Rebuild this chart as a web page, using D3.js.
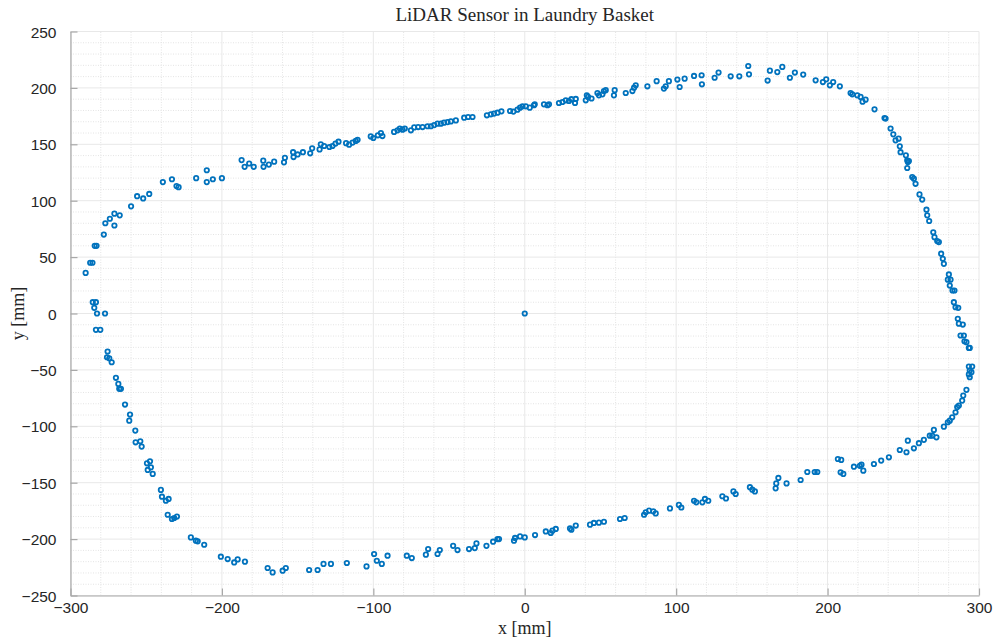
<!DOCTYPE html>
<html>
<head>
<meta charset="utf-8">
<script src="https://cdn.jsdelivr.net/npm/d3@7"></script>
<style>
  body { margin: 0; background: #fff; }
  svg { display: block; }
  .tick-lbl { font-family: 'Liberation Sans', Arial, sans-serif; font-size: 15.5px; fill: #262626; }
  .latex { font-family: 'Liberation Serif', 'DejaVu Serif', serif; fill: #262626; }
</style>
</head>
<body>
<div id="chart"></div>
<script>
// scan points, in mm, walked round the basket wall
const topWall = [
  [-290,36],[-287,45],[-285.5,45],[-284,60],[-282.8,60],[-278,70],[-277,80],[-274,84],[-271,88.5],[-271,78],
  [-267.5,87],[-260,95],[-256,104],[-252,102],[-248,106],[-239,116.5],[-233,119],[-230,113],[-228.6,112],[-217,120],
  [-210,127],[-210,116.5],[-206,119],[-200,120],[-187,136],[-185,130],[-182,133],[-179,130],[-172.7,135.5],[-172.5,130],
  [-169,132],[-165.5,134.6],[-159,134],[-158.4,138],[-153,143],[-152.7,138.7],[-150,141],[-146.5,143],[-141.7,142],[-140.4,146.4],
  [-135.5,145.5],[-134.7,150],[-132.5,148.5],[-129,147.6],[-127,148.5],[-125,150.6],[-123,152.3],[-118,151],[-116,149.7],[-113.7,151.5],
  [-111.6,153],[-110.4,154],[-101.7,157],[-100,155.6],[-97,158],[-95,160],[-94,157.3],[-86.3,161],[-84,162.4],[-82.5,164],
  [-80.7,163],[-79.2,164],[-75.2,162.4],[-73,165],[-70.4,165.3],[-67.5,165.3],[-64.2,166],[-62,166],[-59.8,167],[-57.6,168.3],
  [-55.4,168.3],[-53.3,169.2],[-51,169.7],[-48.8,170.3],[-45.5,171.2],[-40,173.6],[-37.4,174.2],[-34.5,174.2],[-25,175.7],[-22.4,176.6],
  [-20.3,177.2],[-18,178],[-15.4,179.2],[-9.7,179.5],[-7.5,179],[-4.8,180.7],[-3.1,182.5],[-1.5,183.7],[0.7,183.7],[3.3,182.5],
  [6.1,184.6],[6.6,185.4],[12.7,185.4],[15,184.6],[16,185.4],[22.6,186.6],[24.9,187.5],[27.1,189],[29.2,188.4],[30.8,190],
  [33.7,190.2],[33.2,186.6],[40.3,189],[41,193.4],[41.8,192],[44.1,190.6],[48,195.5],[49,193.4],[51.3,194.3],[52.3,197.2],
  [53.5,198],[58.9,193.4],[59.4,198],[66.7,195.5],[71.1,197.2],[72.2,200.2],[73.3,202.3],[81,201.4],[87.1,206],[91.9,199.4],
  [93.1,201.4],[95.2,206],[100.8,207.4],[102.3,200.8],[105.6,208.2],[111.8,210.6],[116.8,211.2],[117,203.2],[125.4,209],[128,213.6],
  [136,210.3],[141.7,210.3],[147.6,219.4],[148.1,212],[160.4,206.5],[161.9,215.3],[166.8,214],[170.1,218.6],[175.1,209],[178.4,213.6],
  [183.9,211.8],[192.1,206.7],[196.9,205.2],[199.1,207.6],[201.5,202.3],[203.7,205.2],[208.1,201.4]
];
const rightWall = [
  [215.2,195.5],[216.3,194.3],[219.6,193.4],[221.8,192],[223.1,187.8],[225.1,189.6],[231,181],[237.6,173.3],[238.3,172.8],[241.6,164],
  [243.4,158.8],[244.9,153.5],[246.9,155],[247.7,148.2],[248.2,143],[251.7,140.2],[252.6,135.8],[253,134.3],[253.7,135.1],[252.6,129],
  [255.9,121],[257,119.5],[258.1,115],[260.7,105.6],[262.5,101],[265.3,92],[265.8,87],[267.1,82],[269.8,72],[270.6,67.7],
  [272.4,64.2],[273.5,63.3],[275,53],[276.1,48.5],[276.8,44],[280.1,34.6],[279.4,30],[281.2,30],[280.7,24.8],[282.5,20.4],
  [283.8,20.4],[283.4,10],[284.5,5.6],[286.3,5],[286,-4.7],[286.7,-9],[289.3,-9.8],[287.8,-19.5],[290,-19.5],[290.4,-24.6],
  [291.7,-25.4],[293.3,-30.5],[293.9,-30.5],[293.3,-47],[295.5,-47],[293.9,-50.6],[295,-52],[293.3,-54],[293.9,-56.5],[291.7,-67.7],
  [289.6,-72.8],[288.9,-77.2],[286.7,-81.6],[285.6,-83],[284.5,-87.6],[282.3,-92],[280.7,-95],[279.4,-96.4],[276.8,-100.3],[271.9,-109.8],
  [270.2,-103.2],[269.1,-108.3],[267.5,-108.3],[263.6,-112],[260.3,-115],[257,-119.5],[253,-112.7],[252.1,-123],[247.7,-121]
];
const bottomWall = [
  [240.5,-127.5],[235.4,-130.4],[230.6,-133.4],[223.6,-139.3],[222.4,-134],[221.3,-135],[217.4,-135.8],[210.4,-142.2],[208.6,-140.8],[209,-129.8],
  [206.8,-129],[193.2,-140.5],[191.5,-140.5],[186.6,-140.5],[182.2,-147.6],[172.9,-150.6],[167.5,-145.8],[166.1,-150.6],[165.7,-155],[152,-157.7],
  [150.3,-156.2],[148.7,-154],[139.3,-160],[137.8,-157.7],[132.9,-164],[130.5,-162],[121.2,-166],[119,-164.4],[117.3,-167.4],[113.3,-167.4],
  [111.8,-166],[103.4,-172],[101.8,-169.7],[95.9,-172.8],[86.5,-177.2],[84.9,-175.4],[82.1,-174.8],[79.9,-176.3],[78.8,-178.4],[66,-181.3],
  [62.9,-182.2],[52.3,-184.6],[49,-185.4],[45.7,-185.7],[43.1,-187.2],[33.7,-188],[30.8,-191.7],[29.9,-190.5],[20.5,-191],[18.3,-192.5],
  [17.2,-194.6],[13.9,-193.2],[6.8,-196.4],[0,-198.5],[-3.1,-197.6],[-6.4,-199],[-7.1,-201.4],[-17,-200],[-18,-200],[-20.9,-202.3],
  [-25.3,-206],[-31.9,-203.8],[-33,-208],[-36.8,-208.8],[-44.4,-209.7],[-47.3,-206],[-56.1,-209.7],[-57.6,-213.2],[-63.8,-208.8],[-65.3,-213.8],
  [-74.6,-216.8],[-77.9,-214.7],[-90.6,-214.7],[-94.4,-222],[-97.7,-219.2],[-99.5,-213.2],[-104.5,-224.2],[-117.5,-221.2],[-128,-222],[-132.9,-222],
  [-136.8,-227.4],[-142.4,-227.4],[-157.8,-225.6],[-159.9,-228],[-166.5,-229.5],[-169.8,-225.6],[-184.8,-220],[-189.6,-218],[-191.9,-220.7],[-196.2,-217.7],
  [-200.7,-215.6],[-211.7,-205],[-216,-202],[-217.2,-201.4],[-220.5,-198.5]
];
const leftWall = [
  [-229.7,-180],[-231.5,-181.3],[-233,-182.2],[-235.8,-178.4],[-235.2,-164.4],[-237,-166],[-239.6,-162.4],[-240.3,-156.4],[-245.7,-142.2],[-246.9,-136.4],
  [-247.5,-131],[-249,-138.7],[-249.5,-132.8],[-253,-118],[-253.9,-113.3],[-257,-114.2],[-257.2,-103.8],[-261.2,-95],[-260.7,-89.6],[-264,-80.7],
  [-266.7,-66.8],[-267.8,-66.8],[-268.4,-62.4],[-270,-57],[-272.8,-43.2],[-274.4,-39.7],[-275.9,-38.8],[-275.5,-33.7],[-283.2,-14.5],[-280.3,-14.5],
  [-282.5,0],[-277.2,0],[-285.3,10],[-283.2,10],[-284.3,5]
];
const sensor = [[0,0]];

const xTicks = [-300,-200,-100,0,100,200,300];
const yTicks = [-250,-200,-150,-100,-50,0,50,100,150,200,250];
const titleText = 'LiDAR Sensor in Laundry Basket';
const xLabel = 'x [mm]';
const yLabel = 'y [mm]';

const width = 996, height = 640;
const margin = { top: 31.5, right: 17, bottom: 44.5, left: 70.5 };
const markerColor = '#0072bd';

const svg = d3.select('#chart').append('svg')
  .attr('width', width)
  .attr('height', height);

const xScale = d3.scaleLinear()
  .domain([-300, 300])
  .range([margin.left, width - margin.right]);
const yScale = d3.scaleLinear()
  .domain([-250, 250])
  .range([height - margin.bottom, margin.top]);

// grid: minor first (dotted), then major
const grid = svg.append('g').attr('class','grid');
const xMinor = d3.range(-300, 301, 20).filter(v => v % 100 != 0);
const yMinor = d3.range(-250, 251, 10).filter(v => v % 50 != 0);
grid.selectAll('line.vminor').data(xMinor).enter()
  .append('line')
    .attr('class','vminor')
    .attr('x1', d => xScale(d)).attr('x2', d => xScale(d))
    .attr('y1', yScale(-250)).attr('y2', yScale(250));
grid.selectAll('line.hminor').data(yMinor).enter()
  .append('line')
    .attr('class','hminor')
    .attr('x1', xScale(-300)).attr('x2', xScale(300))
    .attr('y1', d => yScale(d)).attr('y2', d => yScale(d));
grid.selectAll('.vminor,.hminor')
  .style('stroke','#e4e4e4')
  .style('stroke-width',1)
  .style('stroke-dasharray','1,1.5');
grid.selectAll('line.vmajor').data(xTicks).enter()
  .append('line')
    .attr('class','vmajor')
    .attr('x1', d => xScale(d)).attr('x2', d => xScale(d))
    .attr('y1', yScale(-250)).attr('y2', yScale(250));
grid.selectAll('line.hmajor').data(yTicks).enter()
  .append('line')
    .attr('class','hmajor')
    .attr('x1', xScale(-300)).attr('x2', xScale(300))
    .attr('y1', d => yScale(d)).attr('y2', d => yScale(d));
grid.selectAll('.vmajor,.hmajor')
  .style('stroke','#e8e8e8')
  .style('stroke-width',1);

// axes, ticks pointing inward like matlab
const xAxis = d3.axisBottom(xScale)
  .tickValues(xTicks)
  .tickSize(-7)
  .tickPadding(16)
  .tickSizeOuter(0);
const yAxis = d3.axisLeft(yScale)
  .tickValues(yTicks)
  .tickSize(-7)
  .tickPadding(14)
  .tickSizeOuter(0);

const gx = svg.append('g')
  .attr('transform', `translate(0,${yScale(-250)})`)
  .call(xAxis);
const gy = svg.append('g')
  .attr('transform', `translate(${xScale(-300)},0)`)
  .call(yAxis);
[gx, gy].forEach(g => {
  g.select('.domain').attr('stroke','#a8a8a8').attr('stroke-width',1.2);
  g.selectAll('.tick line').attr('stroke','#a8a8a8').attr('stroke-width',1.2);
  g.selectAll('.tick text')
    .attr('class','tick-lbl')
    .attr('fill', null);
});
gx.selectAll('.tick text').attr('dy','0.1em');
gy.selectAll('.tick text').attr('dy','0.36em');

// points
const walls = [topWall, rightWall, bottomWall, leftWall, sensor];
const gPts = svg.append('g').attr('class','g-main');
gPts.selectAll('g.wall').data(walls).enter()
  .append('g')
    .attr('class','wall')
  .selectAll('circle').data(d => d).enter()
  .append('circle')
    .attr('cx', d => xScale(d[0]))
    .attr('cy', d => yScale(d[1]))
    .attr('r', 2.2)
    .style('fill','none')
    .style('stroke', markerColor)
    .style('stroke-width', 1.8);

// labels
svg.append('text')
  .attr('class','latex')
  .attr('x', xScale(0))
  .attr('y', 21)
  .attr('text-anchor','middle')
  .style('font-size','19px')
  .text(titleText);
svg.append('text')
  .attr('class','latex')
  .attr('x', xScale(0))
  .attr('y', 634)
  .attr('text-anchor','middle')
  .style('font-size','18px')
  .text(xLabel);
svg.append('text')
  .attr('class','latex')
  .attr('transform', `translate(24,${yScale(0)}) rotate(-90)`)
  .attr('text-anchor','middle')
  .style('font-size','18px')
  .text(yLabel);
</script>
</body>
</html>
